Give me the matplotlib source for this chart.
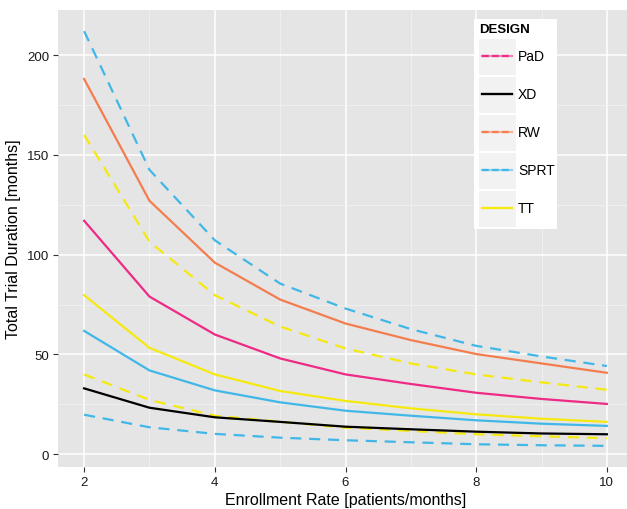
import matplotlib

matplotlib.use("Agg")
import matplotlib.pyplot as plt
from matplotlib.patches import Rectangle
from matplotlib.lines import Line2D

plt.rcParams["font.family"] = ["Liberation Sans", "DejaVu Sans"]

rate = [2, 3, 4, 5, 6, 7, 8, 9, 10]

pad = [117, 79, 60, 48, 40, 35.2, 30.8, 27.7, 25.2]
xd = [33, 23.3, 18.5, 16.2, 13.8, 12.5, 11.3, 10.4, 10]
rw = [188, 127, 96, 77.5, 65.5, 57.2, 50.2, 45.5, 40.8]
sprt = [61.8, 42, 32, 26, 21.8, 19.3, 17, 15.3, 14.2]
sprt_low = [19.8, 13.5, 10.2, 8.3, 7, 6, 5, 4.5, 4.2]
sprt_high = [212, 142.5, 107.2, 85.5, 73, 62.7, 54.3, 49, 44.2]
tt = [79.7, 53.3, 40, 31.7, 26.7, 23, 20, 17.8, 16.2]
tt_low = [40, 27.2, 19.3, 16.3, 13.3, 11.7, 10, 9, 8]
tt_high = [160, 106.5, 79.7, 64, 53, 45.5, 40, 36, 32.3]

designs = ["PaD", "XD", "RW", "SPRT", "TT"]
colors = {"PaD": "#EE2A86", "XD": "#000000", "RW": "#F47D4F", "SPRT": "#41B7E8", "TT": "#F5E90F"}
# designs whose legend key shows the dashed bound overlaid
dashed_keys = ["PaD", "RW", "SPRT"]

fig = plt.figure(figsize=(6.27, 5.10), dpi=100)
W, H = 627, 510
ax = fig.add_axes([58 / W, 42 / H, (633 - 58) / W, (468 - 11) / H])
ax.set_facecolor("#E5E5E5")

lw = 1.6
dash = (5, 3.5)
ax.plot(rate, sprt_low, color=colors["SPRT"], lw=lw, dashes=dash)
ax.plot(rate, sprt_high, color=colors["SPRT"], lw=lw, dashes=dash)
ax.plot(rate, tt_low, color=colors["TT"], lw=lw, dashes=dash)
ax.plot(rate, tt_high, color=colors["TT"], lw=lw, dashes=dash)
ax.plot(rate, rw, color=colors["RW"], lw=lw)
ax.plot(rate, pad, color=colors["PaD"], lw=lw)
ax.plot(rate, tt, color=colors["TT"], lw=lw)
ax.plot(rate, sprt, color=colors["SPRT"], lw=lw)
ax.plot(rate, xd, color=colors["XD"], lw=lw)

ax.set_xlim(1.6, 10.4)
ax.set_ylim(-6.4, 222.6)
ax.set_xticks([2, 4, 6, 8, 10])
ax.set_yticks([0, 50, 100, 150, 200])
ax.set_xticks([3, 5, 7, 9], minor=True)
ax.set_yticks([25, 75, 125, 175], minor=True)
ax.grid(True, which="major", color="white", lw=1.1)
ax.grid(True, which="minor", color="#F2F2F2", lw=0.6)
ax.set_axisbelow(True)
for s in ax.spines.values():
    s.set_visible(False)
ax.tick_params(which="major", length=3.5, width=0.8, color="#333333", labelsize=9.5, labelcolor="#1A1A1A", pad=3)
ax.tick_params(which="minor", length=0)

ax.set_xlabel("Enrollment Rate [patients/months]", fontsize=11.5, labelpad=3)
ax.set_ylabel("Total Trial Duration [months]", fontsize=11.5, labelpad=4)

# legend drawn ggplot-style
box_left, box_top = 474, 20
fig.patches.append(Rectangle((box_left / W, 1 - 230 / H), (557 - box_left) / W, (230 - box_top) / H,
                             transform=fig.transFigure, facecolor="white", edgecolor="none", zorder=5))
fig.text(479 / W, 1 - 30 / H, "DESIGN", fontsize=9.5, fontweight="bold", va="center", ha="left", zorder=6)
for i, name in enumerate(designs):
    cy = 57 + 38 * i
    fig.patches.append(Rectangle((478 / W, 1 - (cy + 18.5) / H), 38 / W, 37 / H,
                                 transform=fig.transFigure, facecolor="#F2F2F2", edgecolor="white", lw=0.8, zorder=6))
    fig.lines.append(Line2D([482 / W, 512 / W], [1 - cy / H, 1 - cy / H], transform=fig.transFigure,
                            color=colors[name], lw=lw, alpha=0.55, zorder=7))
    if name in dashed_keys:
        fig.lines.append(Line2D([482 / W, 512 / W], [1 - cy / H, 1 - cy / H], transform=fig.transFigure,
                                color=colors[name], lw=lw, dashes=(3, 1.5), zorder=7))
    else:
        fig.lines.append(Line2D([482 / W, 512 / W], [1 - cy / H, 1 - cy / H], transform=fig.transFigure,
                                color=colors[name], lw=lw, zorder=7))
    fig.text(518 / W, 1 - cy / H, name, fontsize=10, va="center", ha="left", zorder=7)

fig.savefig("out.png", dpi=100)
